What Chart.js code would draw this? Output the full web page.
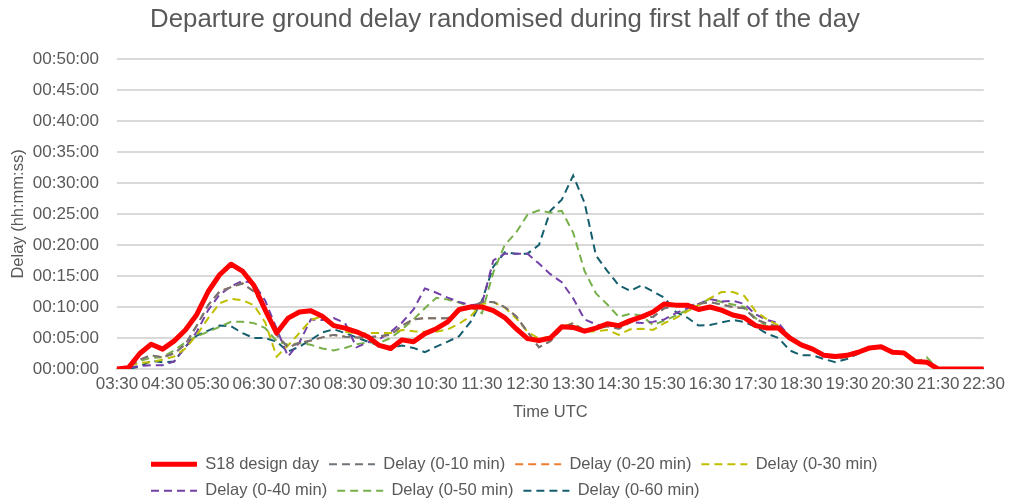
<!DOCTYPE html>
<html lang="en">
<head>
  <meta charset="UTF-8" />
  <title>Departure ground delay</title>
  <script src="https://cdn.jsdelivr.net/npm/chart.js"></script>
  <style>
    body { margin: 0; background: #fff; }
    .chart-container { position: relative; width: 1010px; height: 501px; }
  </style>
</head>
<body>
  <div class="chart-container">
    <canvas id="delayChart"></canvas>
  </div>

  <script>
    // 15 minute slots, 03:30 to 22:30 UTC
    const times = [
      "03:30","03:45","04:00","04:15","04:30","04:45","05:00","05:15","05:30","05:45",
      "06:00","06:15","06:30","06:45","07:00","07:15","07:30","07:45","08:00","08:15",
      "08:30","08:45","09:00","09:15","09:30","09:45","10:00","10:15","10:30","10:45",
      "11:00","11:15","11:30","11:45","12:00","12:15","12:30","12:45","13:00","13:15",
      "13:30","13:45","14:00","14:15","14:30","14:45","15:00","15:15","15:30","15:45",
      "16:00","16:15","16:30","16:45","17:00","17:15","17:30","17:45","18:00","18:15",
      "18:30","18:45","19:00","19:15","19:30","19:45","20:00","20:15","20:30","20:45",
      "21:00","21:15","21:30","21:45","22:00","22:15","22:30"
    ];

    // delay in minutes
    const s18DesignDay = [
      0, 0.2, 2.5, 4.0, 3.2, 4.5, 6.3, 8.8, 12.5, 15.2,
      16.9, 15.8, 13.5, 9.5, 5.8, 8.2, 9.2, 9.4, 8.5, 7.0,
      6.6, 6.0, 5.2, 3.8, 3.3, 4.7, 4.4, 5.7, 6.5, 7.6,
      9.6, 10.0, 10.0, 9.4, 8.3, 6.5, 4.9, 4.6, 5.0, 6.8,
      6.7, 6.1, 6.6, 7.3, 7.0, 7.8, 8.4, 9.2, 10.5, 10.3,
      10.3, 9.6, 10.0, 9.5, 8.7, 8.3, 7.0, 6.6, 6.6, 5.0,
      3.9, 3.2, 2.2, 2.0, 2.2, 2.7, 3.4, 3.6, 2.7, 2.6,
      1.2, 1.1, 0, 0, 0, 0, 0
    ];
    const delay10 = [
      0, 0.3, 1.5, 2.2, 1.9, 2.5, 4.0, 7.0, 10.3, 12.5,
      13.2, 13.8, 12.5, 9.8, 5.5, 3.5, 4.2, 4.6, 5.1, 5.5,
      5.2, 5.1, 5.1, 5.3, 5.5, 7.0, 8.0, 8.2, 8.2, 8.2,
      9.3, 9.9, 10.8, 10.8, 10.0, 8.5, 6.0, 3.5, 4.5, 6.5,
      7.4, 6.2, 6.5, 6.9, 6.5, 7.5, 8.3, 8.4, 9.8, 10.2,
      10.2, 10.5, 10.8, 10.4, 10.0, 9.8, 8.0, 7.3, 6.8, 5.0,
      3.9, 3.0, 2.0, 1.8, 1.9, 2.5, 3.3, 3.5, 2.6, 2.5,
      1.0, 1.0, 0, 0, 0, 0, 0
    ];
    const delay20 = [
      0, 0.3, 1.5, 2.2, 1.9, 2.5, 4.0, 7.0, 10.3, 12.5,
      13.2, 13.8, 12.5, 9.8, 5.5, 3.5, 4.2, 4.6, 5.1, 5.5,
      5.2, 5.1, 5.1, 5.3, 5.5, 7.0, 8.0, 8.2, 8.2, 8.2,
      9.3, 9.9, 10.8, 10.8, 10.0, 8.5, 6.0, 3.5, 4.5, 6.5,
      7.4, 6.2, 6.5, 6.9, 6.5, 7.5, 8.3, 8.4, 9.8, 10.2,
      10.2, 10.5, 10.8, 10.4, 10.0, 9.8, 8.0, 7.3, 6.8, 5.0,
      3.9, 3.0, 2.0, 1.8, 1.9, 2.5, 3.3, 3.5, 2.6, 2.5,
      1.0, 1.0, 0, 0, 0, 0, 0
    ];
    const delay30 = [
      0, 0.5, 1.0, 1.1, 1.5, 2.0, 3.3, 5.5, 8.2, 10.6,
      11.3, 11.1, 10.3, 7.5, 2.0, 3.8, 5.8, 7.9, 8.5, 7.4,
      6.0, 5.7, 5.8, 5.8, 5.8, 6.3, 6.1, 6.0, 6.0, 6.4,
      7.3, 8.5, 10.5, 10.8, 9.9, 8.2, 6.0, 4.9, 5.2, 6.8,
      7.4, 6.0, 6.1, 6.3, 5.5, 6.4, 6.5, 6.3, 7.4, 8.2,
      9.3, 10.3, 11.4, 12.4, 12.4, 11.8, 9.3, 8.0, 7.0, 5.0,
      3.9, 3.1, 2.1, 1.9, 2.0, 2.6, 3.3, 3.5, 2.6, 2.5,
      1.0, 1.0, 0, 0, 0, 0, 0
    ];
    const delay40 = [
      0, 0.2, 0.5, 0.6, 0.6, 1.2, 3.5, 6.0, 9.5, 12.0,
      13.3, 14.2, 13.8, 11.0, 6.5, 2.0, 4.3, 8.0, 7.9, 8.2,
      7.4, 3.5, 4.3, 4.8, 6.0, 7.5, 9.6, 13.0, 12.3, 11.5,
      10.8, 10.3, 10.5, 17.5, 18.6, 18.6, 18.6, 17.0, 15.3, 14.0,
      11.4, 8.0, 7.2, 6.8, 7.1, 7.6, 7.4, 7.6, 8.0, 9.0,
      9.8, 10.5, 11.3, 10.9, 11.0, 10.5, 8.8, 7.9, 7.4, 5.2,
      3.9, 3.1, 2.1, 1.9, 2.0, 2.6, 3.3, 3.5, 2.6, 2.5,
      1.0, 1.0, 0, 0, 0, 0, 0
    ];
    const delay50 = [
      0, 0.5, 1.3, 1.8, 1.9, 3.0, 4.3, 5.3, 6.0, 6.8,
      7.6, 7.6, 7.4, 6.6, 4.5, 3.9, 4.2, 3.9, 3.3, 3.0,
      3.4, 4.0, 4.3, 4.2, 5.0, 6.4, 8.0, 9.8, 11.5, 11.2,
      10.7, 10.0, 9.0, 15.6, 20.0, 22.0, 24.9, 25.6, 25.2, 25.5,
      22.0, 15.8, 12.2, 10.4, 8.4, 8.9, 8.6, 7.1, 7.8, 8.6,
      9.5, 10.3, 11.4, 10.8, 10.4, 10.0, 8.2, 6.9, 6.4, 5.2,
      3.9, 3.1, 2.1, 1.9, 2.0, 2.6, 3.3, 3.5, 2.6, 2.5,
      1.0, 1.9, 0, 0, 0, 0, 0
    ];
    const delay60 = [
      0, 0, 0.4, 1.3, 1.1, 1.2, 3.6, 5.4, 6.2, 7.0,
      6.9, 5.8, 5.0, 5.0, 4.4, 2.8, 3.6, 4.7, 5.9, 6.4,
      5.8, 5.1, 4.4, 3.8, 3.4, 3.8, 3.4, 2.7, 3.6, 4.4,
      5.3, 7.6, 11.0, 16.5, 18.8, 18.6, 18.6, 20.0, 25.5, 27.3,
      31.2, 26.8, 18.3, 15.8, 13.5, 12.6, 13.5, 12.5, 11.5, 9.2,
      8.3, 7.0, 7.1, 7.5, 7.9, 7.6, 6.8, 5.7, 5.0, 3.0,
      2.2, 2.2, 1.6, 1.1, 1.6, 2.5, 3.3, 3.5, 2.6, 2.5,
      1.0, 1.0, 0, 0, 0, 0, 0
    ];

    const textGrey = "#595959";
    Chart.defaults.font.family = "'Liberation Sans', Arial, sans-serif";
    Chart.defaults.color = textGrey;

    // nudge the bottom legend so its rows start under the plot like Excel's
    const legendNudge = {
      id: "legendNudge",
      afterLayout(chart) {
        const lg = chart.legend;
        lg.left += 24; lg.right += 24;
        lg.top += 8; lg.bottom += 8;
      }
    };

    function dashed(label, data, colour) {
      return {
        label: label,
        data: data,
        borderColor: colour,
        backgroundColor: colour,
        borderWidth: 2,
        borderDash: [8, 5],
        pointRadius: 0,
        tension: 0,
        fill: false
      };
    }

    const ctx = document.getElementById("delayChart").getContext("2d");
    new Chart(ctx, {
      type: "line",
      data: {
        labels: times,
        datasets: [
          {
            label: "S18 design day",
            data: s18DesignDay,
            borderColor: "#ff0000",
            backgroundColor: "#ff0000",
            borderWidth: 5,
            borderJoinStyle: "round",
            pointRadius: 0,
            tension: 0,
            fill: false
          },
          dashed("Delay (0-10 min)", delay10, "#6f747b"),
          dashed("Delay (0-20 min)", delay20, "#ed7d31"),
          dashed("Delay (0-30 min)", delay30, "#bfbf00"),
          dashed("Delay (0-40 min)", delay40, "#7340a8"),
          dashed("Delay (0-50 min)", delay50, "#77b04a"),
          dashed("Delay (0-60 min)", delay60, "#155e6e")
        ]
      },
      options: {
        responsive: true,
        maintainAspectRatio: false,
        animation: false,
        plugins: {
          title: {
            display: true,
            text: "Departure ground delay randomised during first half of the day",
            color: textGrey,
            font: { size: 25.8, weight: "normal" },
            padding: { top: 4, bottom: 24 }
          },
          legend: {
            position: "bottom",
            align: "start",
            fullSize: false,
            labels: {
              usePointStyle: true,
              pointStyle: "line",
              pointStyleWidth: 46,
              padding: 10,
              color: textGrey,
              font: { size: 16.5 },
              generateLabels(chart) {
                const items = Chart.defaults.plugins.legend.labels.generateLabels(chart);
                items.forEach(function (it) {
                  const ds = chart.data.datasets[it.datasetIndex];
                  it.lineDash = ds.borderDash || [];
                  it.lineWidth = ds.borderWidth;
                  it.strokeStyle = ds.borderColor;
                });
                return items;
              }
            }
          },
          tooltip: { enabled: false }
        },
        scales: {
          x: {
            grid: { display: false, drawTicks: false },
            border: { display: true, color: "#d9d9d9", width: 2 },
            ticks: {
              autoSkip: false,
              maxRotation: 0,
              padding: 5,
              color: textGrey,
              font: { size: 17 },
              callback: function (value, index) {
                return index % 4 === 0 ? this.getLabelForValue(value) : "";
              }
            },
            title: {
              display: true,
              text: "Time UTC",
              color: textGrey,
              font: { size: 16.5 },
              padding: { top: 2.7, bottom: 16.1 }
            }
          },
          y: {
            min: 0,
            max: 50,
            grid: { color: "#d9d9d9", lineWidth: 2, drawTicks: false },
            border: { display: false },
            ticks: {
              stepSize: 5,
              padding: 18,
              color: textGrey,
              font: { size: 17 },
              callback: function (v) {
                return "00:" + String(v).padStart(2, "0") + ":00";
              }
            },
            title: {
              display: true,
              text: "Delay (hh:mm:ss)",
              color: textGrey,
              font: { size: 16.5 },
              padding: { top: 8.5, bottom: -13.5 }
            }
          }
        }
      },
      plugins: [legendNudge]
    });
  </script>
</body>
</html>
